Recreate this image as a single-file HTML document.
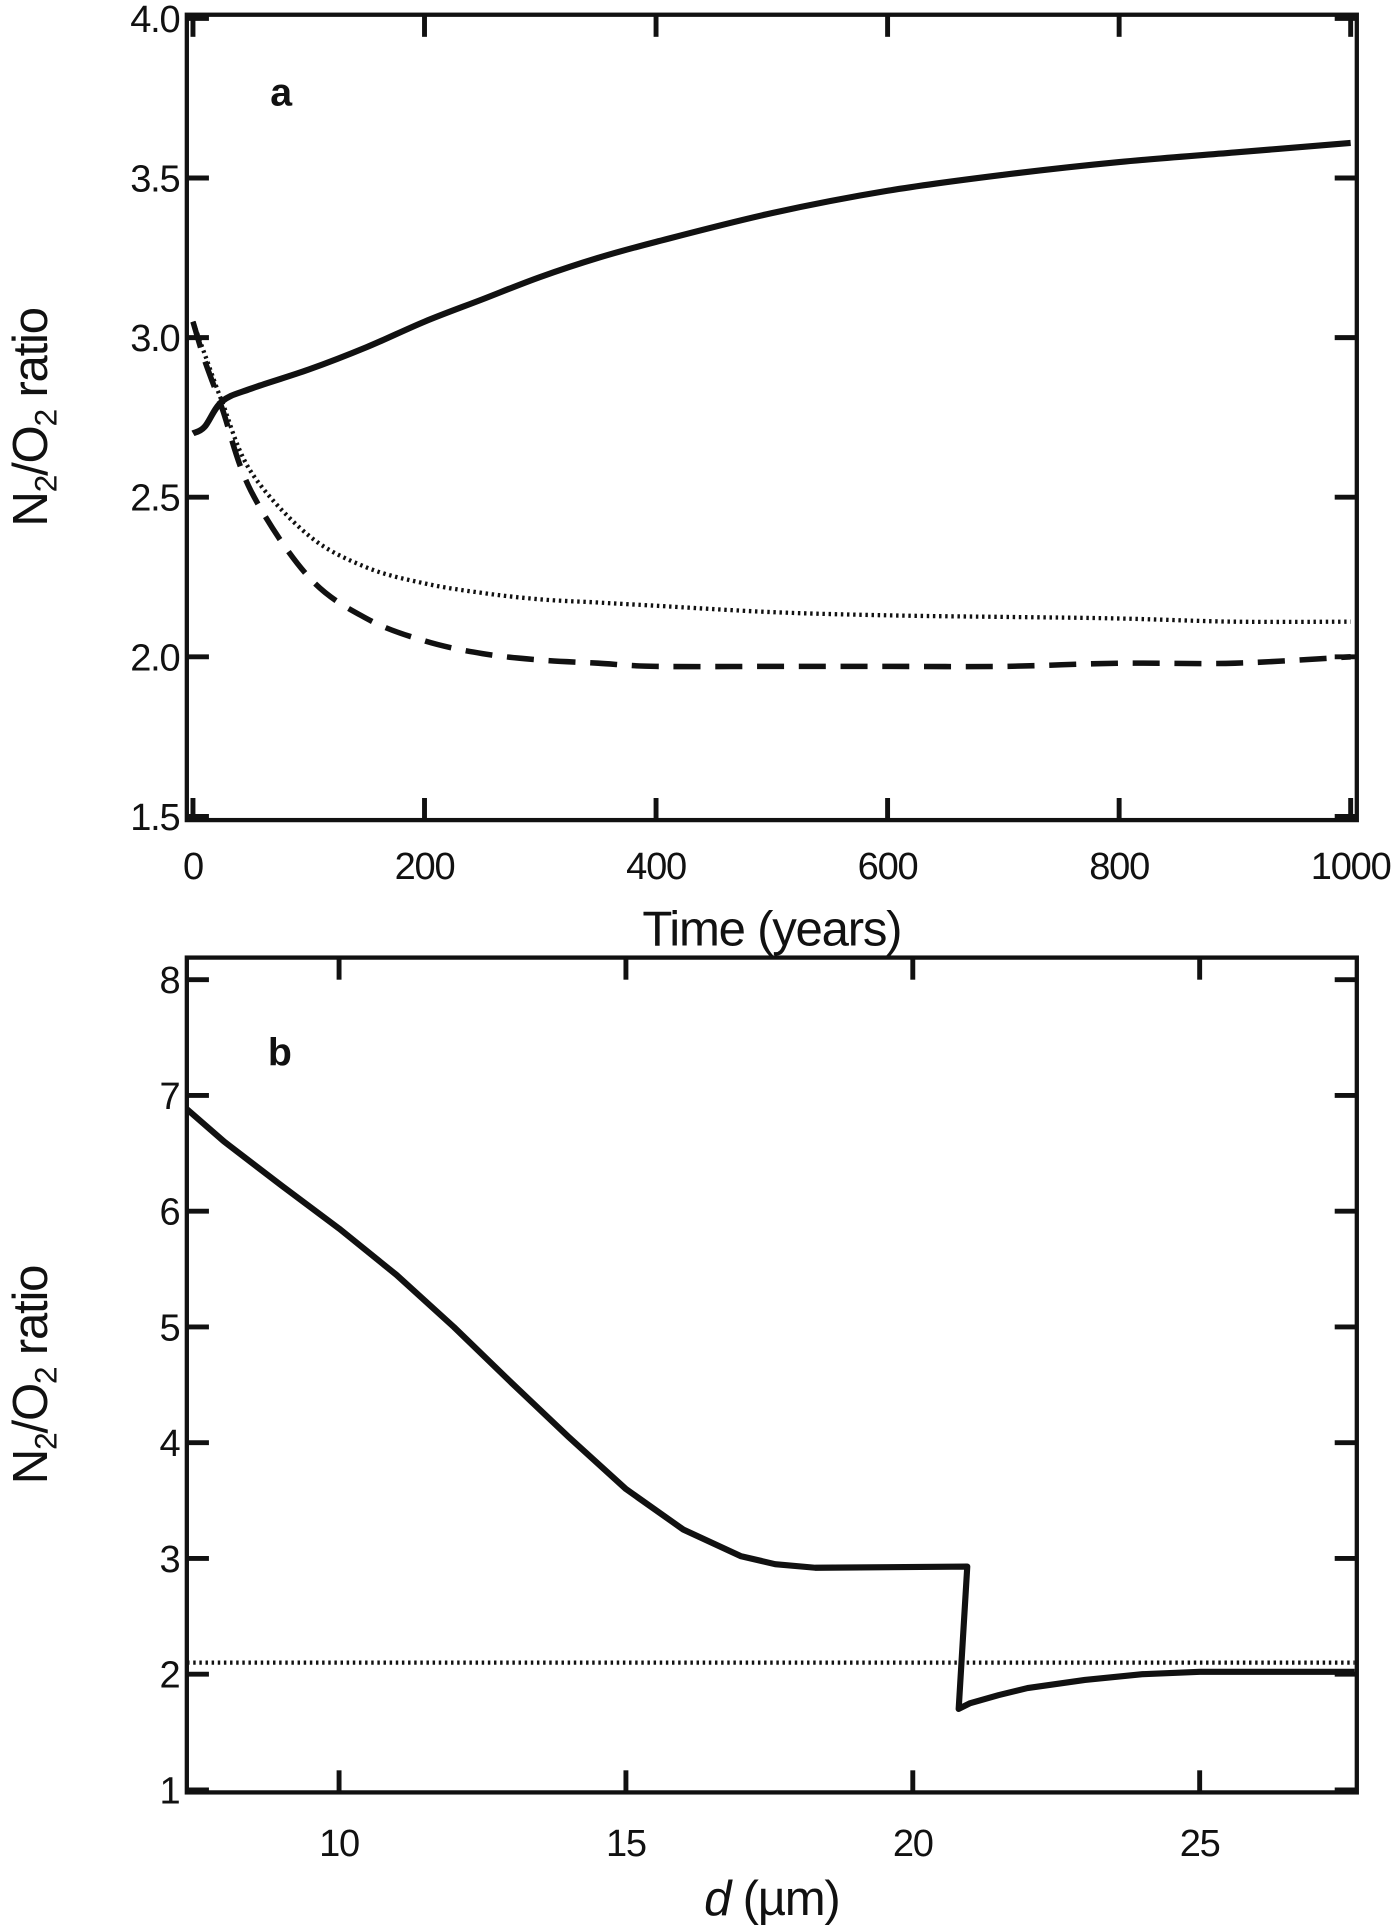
<!DOCTYPE html>
<html><head><meta charset="utf-8"><style>
html,body{margin:0;padding:0;background:#fff}
svg{display:block}
text{font-family:"Liberation Sans",sans-serif;fill:#111}
</style></head><body>
<svg id="fig" width="1400" height="1925" viewBox="0 0 1140 1568" xmlns="http://www.w3.org/2000/svg"></svg>
<script>
// Panel a data
const aTime = [0, 10, 25, 50, 100, 150, 200, 250, 300, 350, 400, 500, 600, 700, 800, 900, 1000];
const aSolid = [2.70, 2.72, 2.80, 2.84, 2.90, 2.97, 3.05, 3.12, 3.19, 3.25, 3.30, 3.39, 3.46, 3.51, 3.55, 3.58, 3.61];
const aDotted = [3.05, 2.95, 2.80, 2.58, 2.38, 2.28, 2.23, 2.20, 2.18, 2.17, 2.16, 2.14, 2.13, 2.125, 2.12, 2.11, 2.11];
const aDashed = [3.05, 2.93, 2.78, 2.52, 2.25, 2.12, 2.05, 2.01, 1.99, 1.98, 1.97, 1.97, 1.97, 1.97, 1.98, 1.98, 2.00];
const aXTicks = [0, 200, 400, 600, 800, 1000];
const aYTicks = [1.5, 2.0, 2.5, 3.0, 3.5, 4.0];
const aYLabels = ["1.5", "2.0", "2.5", "3.0", "3.5", "4.0"];
// Panel b data
const bD = [7.35, 8, 9, 10, 11, 12, 13, 14, 15, 16, 17, 17.6, 18.3, 20.95, 20.8, 21, 21.5, 22, 23, 24, 25, 26, 27.7];
const bSolid = [6.88, 6.6, 6.22, 5.85, 5.45, 5.0, 4.52, 4.05, 3.6, 3.25, 3.02, 2.95, 2.92, 2.93, 1.70, 1.75, 1.82, 1.88, 1.95, 2.0, 2.02, 2.02, 2.02];
const bDotD = [7.35, 27.7];
const bDotted = [2.1, 2.1];
const bXTicks = [10, 15, 20, 25];
const bYTicks = [1, 2, 3, 4, 5, 6, 7, 8];

const svg = document.getElementById('fig');
const NS = 'http://www.w3.org/2000/svg';
function mk(tag, attrs, parent) {
  const e = document.createElementNS(NS, tag);
  for (const k in attrs) e.setAttribute(k, attrs[k]);
  (parent || svg).appendChild(e);
  return e;
}
function lin(d0, d1, r0, r1) { return v => r0 + (v - d0) * (r1 - r0) / (d1 - d0); }
function smooth(pts) {
  let d = 'M' + pts[0][0].toFixed(1) + ',' + pts[0][1].toFixed(1);
  for (let i = 0; i < pts.length - 1; i++) {
    const p0 = pts[i - 1] || pts[i], p1 = pts[i], p2 = pts[i + 1], p3 = pts[i + 2] || p2;
    const c1 = [p1[0] + (p2[0] - p0[0]) / 6, p1[1] + (p2[1] - p0[1]) / 6];
    const c2 = [p2[0] - (p3[0] - p1[0]) / 6, p2[1] - (p3[1] - p1[1]) / 6];
    d += ` C${c1[0].toFixed(1)},${c1[1].toFixed(1)} ${c2[0].toFixed(1)},${c2[1].toFixed(1)} ${p2[0].toFixed(1)},${p2[1].toFixed(1)}`;
  }
  return d;
}

function panel(cfg) {
  const g = mk('g', {});
  
  
  const { L, R, T, B, sx, sy } = cfg;
  const cid = 'clip-' + cfg.name;
  const cp = mk('clipPath', { id: cid }, g);
  mk('rect', { x: L, y: T, width: R - L, height: B - T }, cp);
  const fr = mk('rect', { x: L, y: T, width: R - L, height: B - T, fill: 'none', stroke: '#111', 'stroke-width': 3.5 }, g);
  
  
  cfg.xt.forEach((v, i) => {
    const x = sx(v);
    const t1 = mk('line', { x1: x, x2: x, y1: B, y2: B - 18, stroke: '#111', 'stroke-width': 4 }, g);
    
    
    mk('line', { x1: x, x2: x, y1: T, y2: T + 18, stroke: '#111', 'stroke-width': 4 }, g);
    const tx = mk('text', { x: x, y: cfg.xly, 'font-size': 31, 'text-anchor': 'middle', 'letter-spacing': '-1' }, g);
    tx.textContent = cfg.xl[i];
    
    
  });
  cfg.yt.forEach((v, i) => {
    const y = sy(v);
    const t1 = mk('line', { x1: L, x2: L + 18, y1: y, y2: y, stroke: '#111', 'stroke-width': 4 }, g);
    
    
    mk('line', { x1: R, x2: R - 18, y1: y, y2: y, stroke: '#111', 'stroke-width': 4 }, g);
    const tx = mk('text', { x: L - 6, y: y + 11, 'font-size': 31, 'text-anchor': 'end', 'letter-spacing': '-1' }, g);
    tx.textContent = cfg.yl[i];
    
    
  });
  const sg = mk('g', { 'clip-path': `url(#${cid})` }, g);
  cfg.series.forEach(s => {
    const pts = s.x.map((v, i) => [sx(v), sy(s.y[i])]);
    const d = s.straight ? pts.map((p, i) => (i ? 'L' : 'M') + p[0].toFixed(1) + ',' + p[1].toFixed(1)).join(' ') : smooth(pts);
    const p = mk('path', { d: d, fill: 'none', stroke: '#111', 'stroke-width': s.w, 'stroke-dasharray': s.dash || 'none', 'stroke-linejoin': 'round' }, sg);
    
    
  });
  const lab = mk('text', { x: cfg.labx, y: cfg.laby, 'font-size': 32, 'font-weight': 'bold' }, g);
  lab.textContent = cfg.letter;
  
  
  const xt = mk('text', { x: (L + R) / 2, y: cfg.xtitley, 'font-size': 40, 'text-anchor': 'middle', 'letter-spacing': '-1' }, g);
  xt.innerHTML = cfg.xtitle;
  
  
  const cy = (T + B) / 2;
  const yt = mk('text', { x: 0, y: 0, 'font-size': 40, 'text-anchor': 'middle', 'letter-spacing': '-1', transform: `translate(38,${cy}) rotate(-90)` }, g);
  yt.innerHTML = 'N<tspan font-size="26" dy="8">2</tspan><tspan dy="-8">/O</tspan><tspan font-size="26" dy="8">2</tspan><tspan dy="-8"> ratio</tspan>';
  
  
}

panel({
  name: 'panel-a', L: 152, R: 1105, T: 12, B: 668,
  sx: lin(0, 1000, 157, 1100), sy: lin(1.5, 4.0, 665, 15),
  xt: aXTicks, xl: aXTicks.map(String), xly: 716,
  yt: aYTicks, yl: aYLabels,
  series: [
    { name: 'solid-series-a', x: aTime, y: aSolid, w: 5 },
    { name: 'dotted-series-a', x: aTime, y: aDotted, w: 3.5, dash: '2 3' },
    { name: 'dashed-series-a', x: aTime, y: aDashed, w: 4.5, dash: '22 12' }
  ],
  letter: 'a', labx: 220, laby: 86, xtitle: 'Time (years)', xtitley: 770
});
panel({
  name: 'panel-b', L: 152, R: 1105, T: 780, B: 1460,
  sx: lin(10, 25, 276, 977), sy: lin(1, 8, 1458, 798),
  xt: bXTicks, xl: bXTicks.map(String), xly: 1512,
  yt: bYTicks, yl: bYTicks.map(String),
  series: [
    { name: 'solid-series-b', x: bD, y: bSolid, w: 5, straight: true },
    { name: 'dotted-series-b', x: bDotD, y: bDotted, w: 3.5, dash: '2 3', straight: true }
  ],
  letter: 'b', labx: 218, laby: 868, xtitle: '<tspan font-style="italic">d</tspan> (µm)', xtitley: 1560
});
</script>
</body></html>
